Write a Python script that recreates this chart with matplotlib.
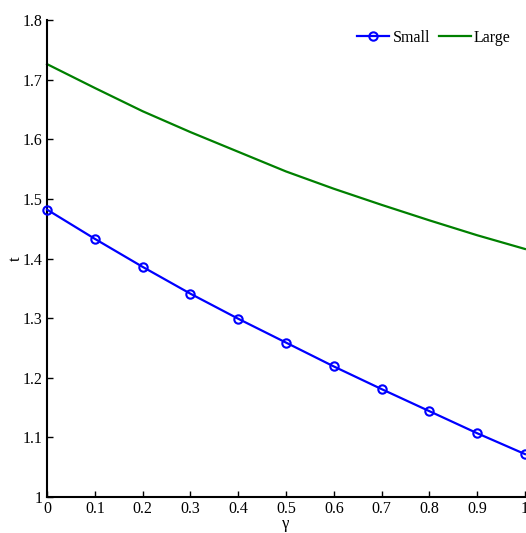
import matplotlib.pyplot as plt
import numpy as np

plt.rcParams['font.family'] = ['Liberation Serif', 'DejaVu Serif']

gamma = [0.0, 0.1, 0.2, 0.3, 0.4, 0.5, 0.6, 0.7, 0.8, 0.9, 1.0]
t_small = [1.482, 1.433, 1.386, 1.341, 1.299, 1.259, 1.219, 1.181, 1.144, 1.107, 1.072]
t_large = [1.726, 1.686, 1.647, 1.612, 1.579, 1.546, 1.517, 1.490, 1.464, 1.439, 1.416]

fig = plt.figure(figsize=(5.26, 5.33), dpi=100)
ax = fig.add_axes([0.0894, 0.0675, 0.9086, 0.895])

ax.plot(gamma, t_small, color='#0000ff', lw=1.6, marker='o', ms=6,
        mfc='none', mew=1.5, label='Small', clip_on=False, zorder=3)
ax.plot(gamma, t_large, color='#008000', lw=1.6, label='Large', clip_on=False)

ax.set_xlim(0, 1)
ax.set_ylim(1, 1.8)
ax.set_xticks(np.arange(0, 1.01, 0.1))
ax.set_xticklabels(['0', '0.1', '0.2', '0.3', '0.4', '0.5', '0.6', '0.7', '0.8', '0.9', '1'])
ax.set_yticks(np.arange(1, 1.81, 0.1))
ax.set_yticklabels(['1', '1.1', '1.2', '1.3', '1.4', '1.5', '1.6', '1.7', '1.8'])

for s in ['top', 'right']:
    ax.spines[s].set_visible(False)
for s in ['left', 'bottom']:
    ax.spines[s].set_linewidth(1.5)
ax.tick_params(direction='in', length=4, width=1, labelsize=11.5, pad=3)

ax.set_xlabel('γ', fontsize=12, labelpad=-1)
ax.set_ylabel('t', fontsize=12, labelpad=-1)

ax.legend(loc='upper right', bbox_to_anchor=(1.0, 1.01), ncol=2, frameon=False,
          fontsize=11.5, handlelength=2.0, columnspacing=0.55, handletextpad=0.2)

fig.savefig('out.png', dpi=100)
